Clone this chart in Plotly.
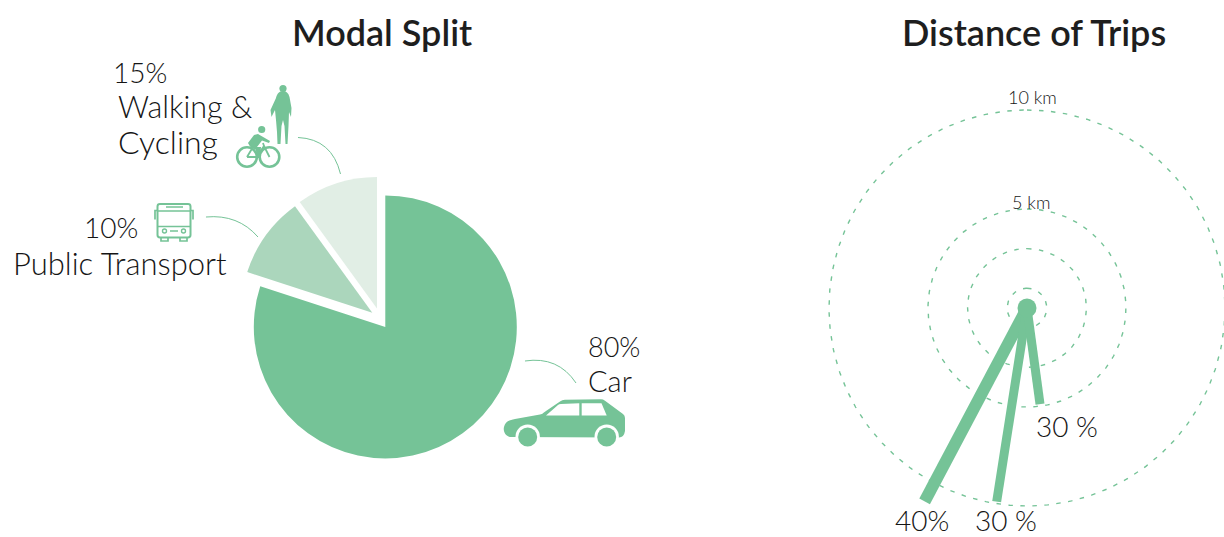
import numpy as np
import plotly.graph_objects as go

W, H = 1224, 537

# ---- data ----
modes = ["Car", "Public Transport", "Walking & Cycling"]
mode_shares = [80, 10, 10]
mode_colors = ["#75C397", "#ABD6BC", "#E1EEE5"]
ring_km = [1, 3, 5, 10]
ring_labels = ["5 km", "10 km"]
spoke_km = [11.05, 9.9, 4.9]
spoke_bearing = [207.9, 188.9, 172.3]
spoke_labels = ["40%", "30 %", "30 %"]

GREEN = "#75C397"
INK = "#151515"
LIGHT = "Lato Light"

# geometry of the panels, in page pixels
PIE_R = 131.5
pie_apex = [(385.3, 326.9), (372.3, 312.7), (377.0, 308.4)]
RING_CX, RING_CY, PX_PER_KM = 1027.0, 308.0, 19.8


def px(x):
    return x / W


def py(y):
    return 1 - y / H


fig = go.Figure()

# exploded pie: one trace per slice so each can sit at its own offset
for i, (ax, ay) in enumerate(pie_apex):
    colors = ["rgba(0,0,0,0)"] * 3
    colors[i] = mode_colors[i]
    fig.add_trace(go.Pie(
        labels=modes, values=mode_shares, sort=False, direction="clockwise", rotation=0,
        marker=dict(colors=colors, line=dict(width=0)),
        textinfo="none", hoverinfo="skip", showlegend=False,
        domain=dict(x=[px(ax - PIE_R), px(ax + PIE_R)], y=[py(ay + PIE_R), py(ay - PIE_R)]),
    ))

# distance rings
t = np.radians(np.arange(0, 360.5, 1.0))
for km in ring_km:
    fig.add_trace(go.Scatter(
        x=km * np.sin(t), y=km * np.cos(t), mode="lines",
        line=dict(color=GREEN, width=1.4, dash="4.5px,7.5px"),
        hoverinfo="skip", showlegend=False, cliponaxis=False,
    ))

# spokes
for km, b, w in zip(spoke_km, spoke_bearing, [12, 9, 9]):
    fig.add_trace(go.Scatter(
        x=[0, km * np.sin(np.radians(b))], y=[0, km * np.cos(np.radians(b))], mode="lines",
        line=dict(color=GREEN, width=w), hoverinfo="skip", showlegend=False, cliponaxis=False,
    ))
fig.add_trace(go.Scatter(
    x=[0], y=[0], mode="markers", marker=dict(color=GREEN, size=19),
    hoverinfo="skip", showlegend=False, cliponaxis=False,
))


def txt(s, x, y, size, anchor="left", family=LIGHT, color=INK, weight=None):
    f = dict(family=family, size=size, color=color)
    if weight:
        f["weight"] = weight
    fig.add_annotation(text=s, x=px(x), y=py(y), xref="paper", yref="paper",
                       xanchor=anchor, yanchor="middle", showarrow=False, font=f,
                       borderpad=0, borderwidth=0)


TITLE_FONT = "Lato Semibold, Lato"
txt("Modal Split", 382, 32, 36, "center", TITLE_FONT, "#1E1E1E")
txt("Distance of Trips", 1033.5, 32, 36, "center", TITLE_FONT, "#1E1E1E")

txt("15%", 113, 72, 28)
txt("Walking &", 118, 106, 30.5)
txt("Cycling", 118, 141, 32)
txt("10%", 84, 227, 28)
txt("Public Transport", 13, 263, 31)
txt("80%", 588, 346, 27)
txt("Car", 588, 380, 29)
txt(spoke_labels[2], 1066.5, 426, 28, "center")
txt(spoke_labels[0], 921.5, 520, 28, "center")
txt(spoke_labels[1], 1005.5, 520, 28, "center")
txt(ring_labels[1], 1032.5, 97, 18, "center")
txt(ring_labels[0], 1031, 202, 18, "center")


def P(d):
    """Pixel-space SVG path -> paper-space path."""
    out = []
    for tok in d.split():
        if tok[0].isalpha():
            out.append(tok)
        else:
            a, b = tok.split(",")
            out.append(f"{px(float(a)):.5f},{py(float(b)):.5f}")
    return " ".join(out)


def path(d, fill=None, stroke=None, w=1.5):
    fig.add_shape(type="path", path=P(d), xref="paper", yref="paper",
                  fillcolor=fill if fill else "rgba(0,0,0,0)",
                  line=dict(color=stroke if stroke else "rgba(0,0,0,0)", width=w if stroke else 0))


def circ(cx, cy, r, fill=None, stroke=None, w=1.5):
    fig.add_shape(type="circle", xref="paper", yref="paper",
                  x0=px(cx - r), x1=px(cx + r), y0=py(cy + r), y1=py(cy - r),
                  fillcolor=fill if fill else "rgba(0,0,0,0)",
                  line=dict(color=stroke if stroke else "rgba(0,0,0,0)", width=w if stroke else 0))


# leader lines
path("M 298,137.5 Q 332,139 340.5,174", stroke=GREEN, w=1)
path("M 206,217 Q 238,214 258,237", stroke=GREEN, w=1)
path("M 525,361 Q 558,356 576,383", stroke=GREEN, w=1)

# pedestrian
circ(283, 88.5, 3.6, fill=GREEN)
path("M 283,91 C 279,91 277,94 276,98 L 270.5,110 L 271.5,117 L 275,110 L 276,120 L 277,132 "
     "L 277.5,144 L 280.5,144 L 281.5,126 L 283,120 L 284.5,126 L 285.5,144 L 287.5,144 "
     "L 288.5,126 L 289,112 L 291,117 L 291.5,108 L 289.5,97 C 288.5,93 286,91 283,91 Z", fill=GREEN)

# cyclist
circ(247, 157, 9.8, stroke=GREEN, w=2.6)
circ(269.5, 157, 9.8, stroke=GREEN, w=2.6)
circ(261.7, 129.5, 3.6, fill=GREEN)
path("M 258,134 L 264,137.5 L 270,141 L 269,143 L 262,140.5 L 257,147 L 261,147 L 260,158 L 256.5,158 "
     "L 256,150 L 250,146.5 L 248,143 L 254,135 Z", fill=GREEN)
path("M 247,157 L 253,147 M 247,157 L 257,157 M 264,146 L 269.5,157 M 264,146 L 257,156 M 263,143 L 264,146",
     stroke=GREEN, w=1.8)

# bus
path("M 160,204 L 188,204 Q 190.5,204 190.5,206.5 L 190.5,235 Q 190.5,237.5 188,237.5 L 160,237.5 "
     "Q 157.5,237.5 157.5,235 L 157.5,206.5 Q 157.5,204 160,204 Z", stroke=GREEN, w=2)
path("M 157.5,211 L 190.5,211 M 157.5,226.5 L 190.5,226.5 M 166,207 L 183,207 M 170,231 L 178,231", stroke=GREEN, w=1.7)
path("M 157.5,210.5 L 155,210.5 L 155,219.5 M 190.5,210.5 L 193,210.5 L 193,219.5", stroke=GREEN, w=1.7)
path("M 161,237.5 L 161,241 L 168,241 L 168,237.5 M 180,237.5 L 180,241 L 187,241 L 187,237.5", stroke=GREEN, w=1.7)
circ(164.5, 231, 2, stroke=GREEN, w=1.4)
circ(183.5, 231, 2, stroke=GREEN, w=1.4)

# car
path("M 510,437 C 505,436 503,431 504,427 C 505,422 509,420 515,419 L 540,414.5 C 543,414 543,413 546,411 "
     "L 560,401.5 Q 562,399.7 565,399.7 L 601,399.3 Q 603,399.3 605,400.7 L 623,414 Q 625,415.5 625,418 "
     "L 625,431 Q 624,437.5 619,437.5 Z", fill=GREEN)
path("M 546,415.5 L 558,405 Q 559,404 561,404 L 579.3,403.3 L 579.3,415.5 Z", fill="white")
path("M 581.7,403.3 L 601.5,403.3 L 606.7,415.5 L 581.7,415.5 Z", fill="white")
circ(527.7, 436.7, 12.2, fill="white")
circ(606.7, 436.7, 12.2, fill="white")
circ(527.7, 437, 9.5, fill=GREEN)
circ(606.7, 437, 9.5, fill=GREEN)

fig.update_layout(
    width=W, height=H, autosize=False,
    margin=dict(l=0, r=0, t=0, b=0),
    paper_bgcolor="white", plot_bgcolor="white", showlegend=False,
    xaxis=dict(visible=False, domain=[0, 1], range=[(0 - RING_CX) / PX_PER_KM, (W - RING_CX) / PX_PER_KM], fixedrange=True),
    yaxis=dict(visible=False, domain=[0, 1], range=[(RING_CY - H) / PX_PER_KM, RING_CY / PX_PER_KM], fixedrange=True),
)
fig.write_html("out.html", config=dict(displayModeBar=False), default_width=W, default_height=H,
               post_script="document.body.style.margin='0';document.documentElement.style.overflow='hidden';")
